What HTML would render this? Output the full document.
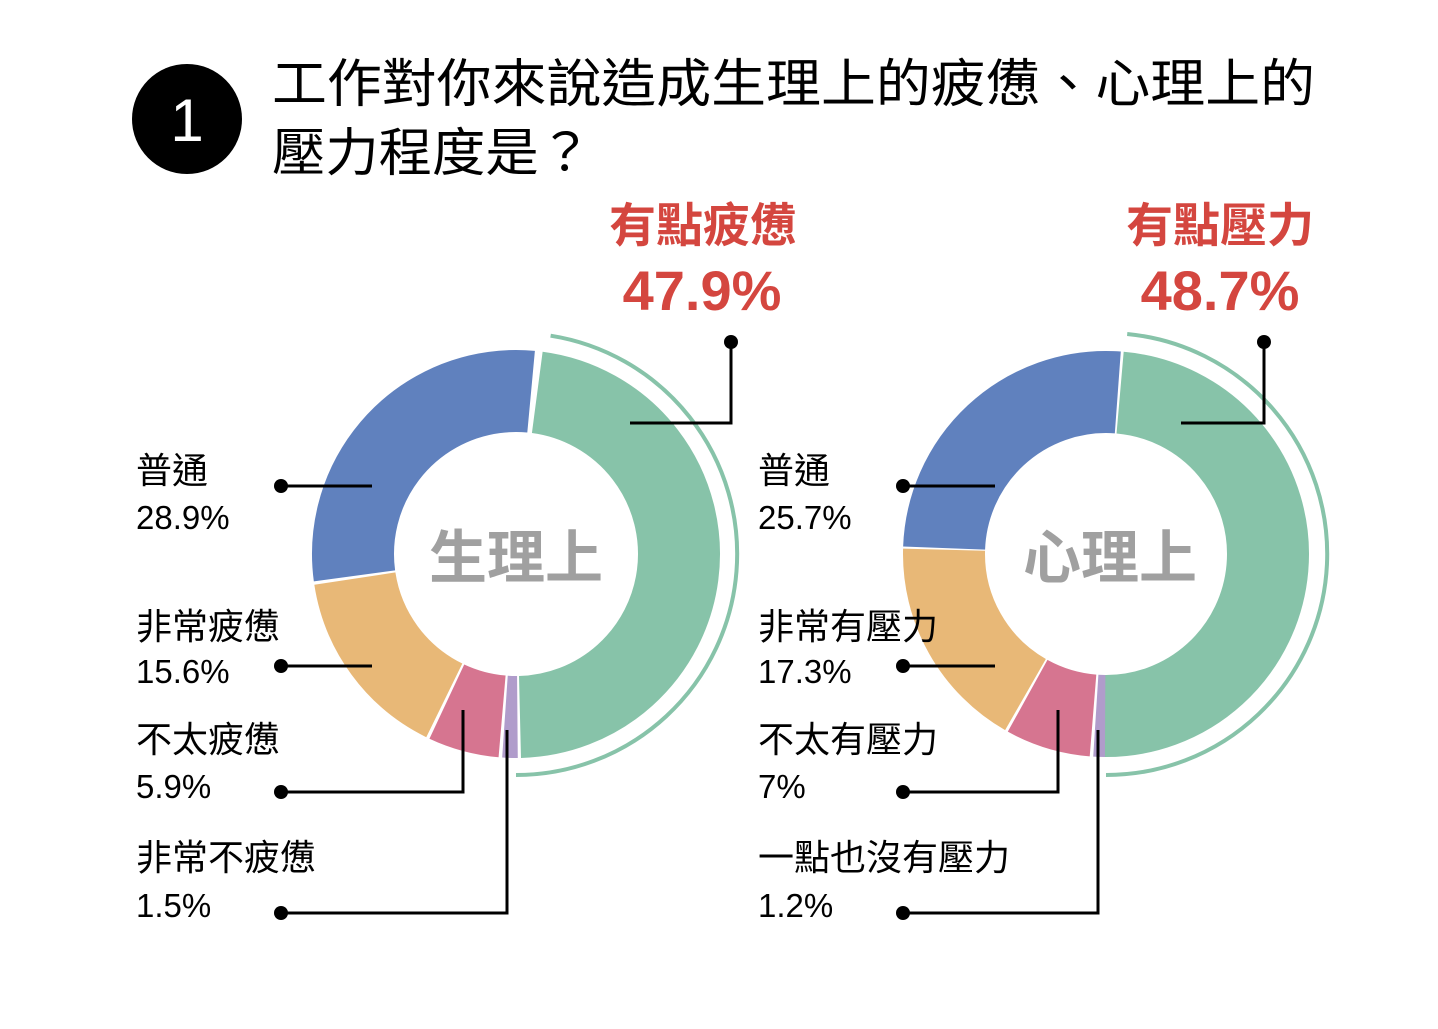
<!DOCTYPE html>
<html><head><meta charset="utf-8"><style>
html,body{margin:0;padding:0;background:#fff}
svg{display:block}
text{font-family:"Liberation Sans","Noto Sans CJK TC",sans-serif}
</style></head><body>
<svg width="1438" height="1029" viewBox="0 0 1438 1029" xmlns="http://www.w3.org/2000/svg">
<circle cx="187" cy="119" r="55" fill="#000"/>
<text x="187" y="141" font-size="60" fill="#fff" text-anchor="middle">1</text>
<text x="272" y="102" font-size="52" fill="#000" textLength="1043" lengthAdjust="spacingAndGlyphs">工作對你來說造成生理上的疲憊、心理上的</text>
<text x="272" y="171" font-size="52" fill="#000" textLength="320" lengthAdjust="spacingAndGlyphs">壓力程度是？</text>

<g fill="#d4463f" font-weight="bold" text-anchor="middle">
<text x="703" y="242" font-size="47">有點疲憊</text>
<text x="702" y="310" font-size="56">47.9%</text>
<text x="1220" y="242" font-size="47">有點壓力</text>
<text x="1220" y="310" font-size="56">48.7%</text>
</g>

<g fill="none" stroke-width="82">
<circle cx="516" cy="554" r="163" stroke="#87c3a9" stroke-dasharray="486.5 2000" transform="rotate(-82.5 516 554)"/>
<circle cx="516" cy="554" r="163" stroke="#b09ccb" stroke-dasharray="12.5 2000" transform="rotate(89.5 516 554)"/>
<circle cx="516" cy="554" r="163" stroke="#d67590" stroke-dasharray="57.5 2000" transform="rotate(94.9 516 554)"/>
<circle cx="516" cy="554" r="163" stroke="#e8b877" stroke-dasharray="157 2000" transform="rotate(116.1 516 554)"/>
<circle cx="516" cy="554" r="163" stroke="#6081be" stroke-dasharray="293 2000" transform="rotate(172.3 516 554)"/>

<circle cx="1106" cy="554" r="162" stroke="#87c3a9" stroke-dasharray="495.9 2000" transform="rotate(-85 1106 554)"/>
<circle cx="1106" cy="554" r="162" stroke="#b09ccb" stroke-dasharray="9.4 2000" transform="rotate(90.3 1106 554)"/>
<circle cx="1106" cy="554" r="162" stroke="#d67590" stroke-dasharray="68.8 2000" transform="rotate(94.6 1106 554)"/>
<circle cx="1106" cy="554" r="162" stroke="#e8b877" stroke-dasharray="174.4 2000" transform="rotate(119.8 1106 554)"/>
<circle cx="1106" cy="554" r="162" stroke="#6081be" stroke-dasharray="260.3 2000" transform="rotate(182.1 1106 554)"/>
</g>
<path d="M550.6 335.7 A221 221 0 0 1 516 775" fill="none" stroke="#87c3a9" stroke-width="4"/>
<path d="M1127.2 334 A221 221 0 0 1 1106 775" fill="none" stroke="#87c3a9" stroke-width="4"/>

<g fill="#a0a0a0" font-weight="bold" text-anchor="middle" font-size="58">
<text x="516" y="578">生理上</text>
<text x="1110" y="578">心理上</text>
</g>

<g stroke="#000" stroke-width="3" fill="none">
<polyline points="731,342 731,423 630,423"/>
<polyline points="281,486 372,486"/>
<polyline points="281,666 372,666"/>
<polyline points="281,792 463,792 463,710"/>
<polyline points="281,913 507,913 507,730"/>
<polyline points="1264,342 1264,423 1181,423"/>
<polyline points="903,486 995,486"/>
<polyline points="903,666 995,666"/>
<polyline points="903,792 1058,792 1058,710"/>
<polyline points="903,913 1098,913 1098,730"/>
</g>
<g fill="#000">
<circle cx="731" cy="342" r="7"/><circle cx="281" cy="486" r="7"/><circle cx="281" cy="666" r="7"/><circle cx="281" cy="792" r="7"/><circle cx="281" cy="913" r="7"/>
<circle cx="1264" cy="342" r="7"/><circle cx="903" cy="486" r="7"/><circle cx="903" cy="666" r="7"/><circle cx="903" cy="792" r="7"/><circle cx="903" cy="913" r="7"/>
</g>

<g fill="#000" font-size="36">
<text x="136" y="483">普通</text>
<text x="136" y="639">非常疲憊</text>
<text x="136" y="752">不太疲憊</text>
<text x="136" y="870">非常不疲憊</text>
<text x="758" y="483">普通</text>
<text x="758" y="639">非常有壓力</text>
<text x="758" y="752">不太有壓力</text>
<text x="758" y="870">一點也沒有壓力</text>
</g>
<g fill="#000" font-size="33">
<text x="136" y="529">28.9%</text>
<text x="136" y="683">15.6%</text>
<text x="136" y="798">5.9%</text>
<text x="136" y="917">1.5%</text>
<text x="758" y="529">25.7%</text>
<text x="758" y="683">17.3%</text>
<text x="758" y="798">7%</text>
<text x="758" y="917">1.2%</text>
</g>
</svg>
</body></html>
